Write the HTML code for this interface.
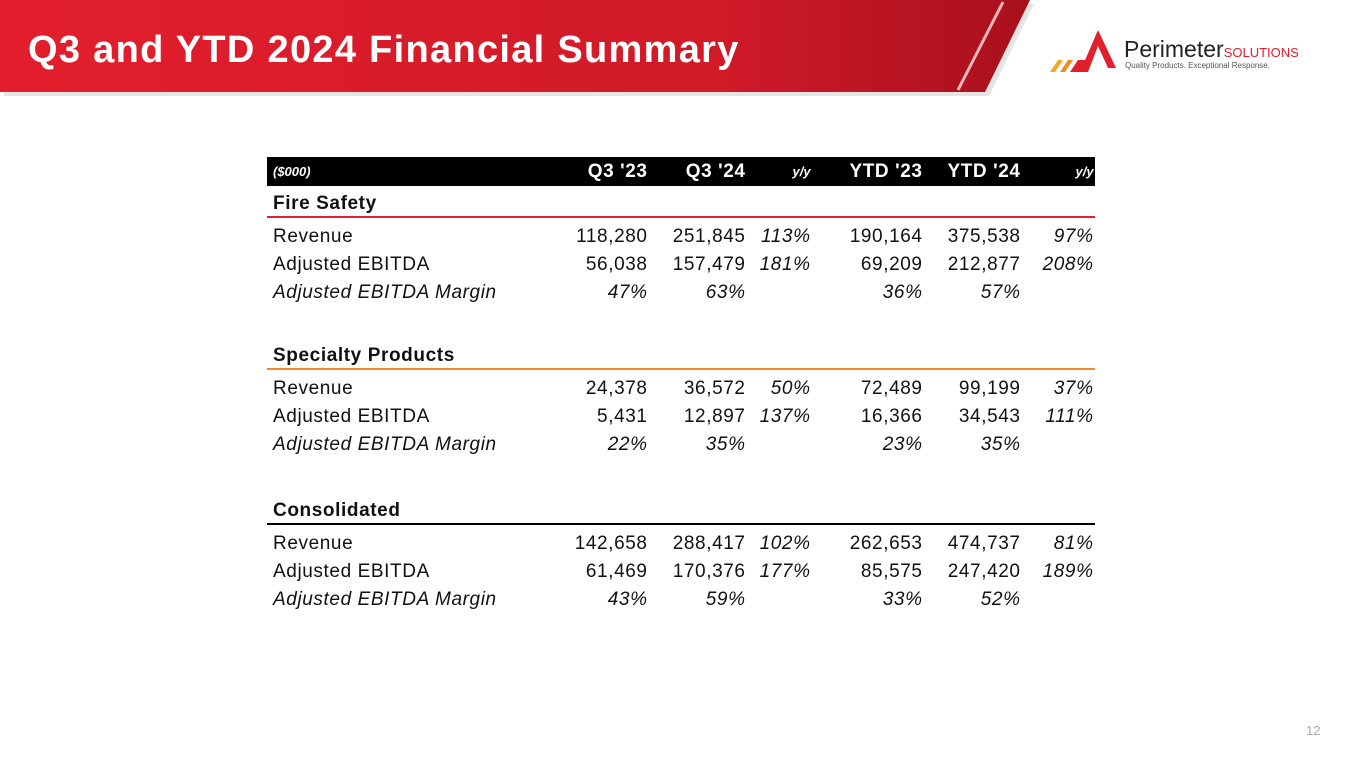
<!DOCTYPE html>
<html><head><meta charset="utf-8"><style>
body{margin:0;width:1365px;height:768px;background:#fff;position:relative;overflow:hidden;font-family:"Liberation Sans",Arial,sans-serif}
.t{position:absolute;font-size:19px;letter-spacing:0.6px;color:#111;white-space:nowrap;line-height:22px}
.r{text-align:right}
.i{font-style:italic}
.b{font-weight:bold}
</style></head><body>
<svg width="1365" height="110" style="position:absolute;left:0;top:0">
<defs><linearGradient id="g" x1="0" x2="1"><stop offset="0" stop-color="#e31e2d"/><stop offset="0.7" stop-color="#d01a28"/><stop offset="1" stop-color="#a8101c"/></linearGradient></defs>
<polygon points="0,0 1030,0 985,92 0,92" fill="#999" opacity="0.25" transform="translate(4,4)"/>
<polygon points="0,0 1030,0 985,92 0,92" fill="url(#g)"/>
<line x1="1003" y1="2" x2="958" y2="90" stroke="#f2b8bd" stroke-width="3"/>
<polygon points="1050,72 1058,60 1063,60 1055,72" fill="#f5a623"/>
<polygon points="1060,72 1068,60 1073,60 1065,72" fill="#f08a1e"/>
<polygon points="1070,72 1078,60 1090,60 1082,72" fill="#e31e2d"/>
<polygon points="1080,72 1098,30 1116,68 1108,68 1098,46 1088,72" fill="#e31e2d"/>
</svg>
<div class="t b" style="left:28px;top:28px;font-size:38px;letter-spacing:1.3px;line-height:44px;color:#fff">Q3 and YTD 2024 Financial Summary</div>
<div class="t" style="left:1124px;top:36px;font-size:23px;letter-spacing:0;line-height:26px;color:#222">Perimeter<span style="font-size:13px;color:#e31e2d">SOLUTIONS</span></div>
<div class="t" style="left:1125px;top:61px;font-size:8px;letter-spacing:0;line-height:10px;color:#555">Quality Products. Exceptional Response.</div>
<div class="t" style="left:1306px;top:720px;font-size:13px;letter-spacing:0;color:#aaa">12</div>
<div style="position:absolute;left:267px;top:157px;width:828px;height:29px;background:#000"></div>
<script>
const cols=["Q3 '23","Q3 '24","y/y","YTD '23","YTD '24","y/y"];
const colRight=[647,745,810,922,1020,1093];
const sections=["Fire Safety","Specialty Products","Consolidated"];
const lineColors=["#e31e2d","#f08a2a","#000"];
const rowLabels=["Revenue","Adjusted EBITDA","Adjusted EBITDA Margin"];
const data=[
[["118,280","251,845","113%","190,164","375,538","97%"],["56,038","157,479","181%","69,209","212,877","208%"],["47%","63%","","36%","57%",""]],
[["24,378","36,572","50%","72,489","99,199","37%"],["5,431","12,897","137%","16,366","34,543","111%"],["22%","35%","","23%","35%",""]],
[["142,658","288,417","102%","262,653","474,737","81%"],["61,469","170,376","177%","85,575","247,420","189%"],["43%","59%","","33%","52%",""]]];
const root=document.body;
function mk(txt,cls,l,top,w,st){const d=document.createElement('div');d.className='t '+cls;d.textContent=txt;
d.style.top=top+'px';if(w){d.style.left=(l-w+0.6)+'px';d.style.width=w+'px';}else d.style.left=l+'px';if(st)d.style.cssText+=st;root.appendChild(d);return d;}
let h=mk("($000)","i b",273,161,0,"color:#fff;font-size:13px;letter-spacing:0");


cols.forEach((c,j)=>{const yy=c==="y/y";const e=mk(c,yy?"r i b":"r b",colRight[j],161,120,yy?"color:#fff;font-size:13px;letter-spacing:0":"color:#fff");

});
const secTop=[193,345,500];
sections.forEach((s,k)=>{const y0=secTop[k];
const e=mk(s,"b",273,y0,0);


const ln=document.createElement('div');ln.style.cssText=`position:absolute;left:267px;width:828px;top:${y0+23}px;height:2px;background:${lineColors[k]}`;


root.appendChild(ln);
rowLabels.forEach((r,i)=>{const ty=y0+33+i*28;const it=i===2?"i":"";
const l=mk(r,it,273,ty,0);


data[k][i].forEach((v,j)=>{const e2=mk(v,"r "+((j===2||j===5||i===2)?"i":""),colRight[j],ty,120);

});});});
</script>
</body></html>
